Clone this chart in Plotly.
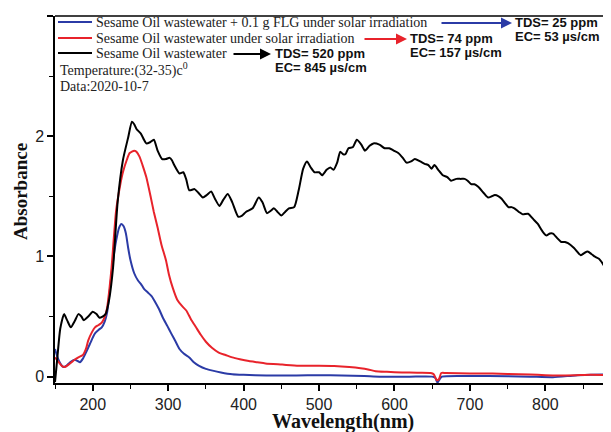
import plotly.graph_objects as go

# ————————————————
# data (wavelength nm, absorbance)
WL_RAW = [150, 153, 157, 162, 166, 171, 176, 181, 185, 188, 194, 200, 205, 209, 213, 217,
          222, 227, 233, 240, 247, 252, 255, 258, 264, 268, 271, 276, 281, 286, 292, 297,
          302, 305, 308, 315, 320, 324, 328, 335, 340, 346, 351, 357, 362, 368, 373, 379,
          385, 393, 398, 403, 412, 420, 425, 431, 436, 440, 445, 450, 455, 460, 467, 473,
          479, 484, 489, 494, 500, 504, 510, 515, 519, 524, 528, 532, 535, 539, 545, 550,
          556, 561, 567, 572, 580, 587, 593, 599, 605, 611, 616, 622, 627, 634, 640, 645,
          649, 653, 658, 664, 670, 675, 682, 688, 693, 697, 702, 706, 711, 718, 724, 729,
          733, 738, 742, 747, 751, 755, 759, 765, 770, 777, 784, 790, 796, 801, 806, 810,
          816, 821, 826, 830, 838, 847, 852, 856, 861, 865, 871, 876, 880, 884, 887]
ABS_RAW = [-0.045, 0.15, 0.40, 0.52, 0.47, 0.41, 0.46, 0.52, 0.50, 0.47, 0.50, 0.54, 0.52, 0.49, 0.50, 0.52,
           0.65, 0.91, 1.45, 1.80, 1.99, 2.12, 2.10, 2.06, 2.02, 1.97, 1.94, 1.95, 1.97, 1.88, 1.81, 1.81,
           1.82, 1.80, 1.76, 1.69, 1.70, 1.64, 1.55, 1.56, 1.53, 1.49, 1.51, 1.54, 1.48, 1.42, 1.47, 1.52,
           1.45, 1.33, 1.34, 1.37, 1.40, 1.49, 1.45, 1.36, 1.38, 1.40, 1.37, 1.34, 1.37, 1.40, 1.41, 1.55,
           1.73, 1.79, 1.74, 1.70, 1.70, 1.675, 1.72, 1.74, 1.72, 1.78, 1.87, 1.85, 1.85, 1.90, 1.91, 1.97,
           1.93, 1.88, 1.92, 1.94, 1.93, 1.90, 1.90, 1.88, 1.86, 1.82, 1.78, 1.79, 1.81, 1.79, 1.77, 1.76,
           1.73, 1.76, 1.72, 1.675, 1.66, 1.63, 1.645, 1.645, 1.645, 1.63, 1.60, 1.60, 1.58, 1.53, 1.49, 1.50,
           1.51, 1.50, 1.48, 1.44, 1.41, 1.41, 1.40, 1.37, 1.35, 1.355, 1.31, 1.27, 1.21, 1.175, 1.19, 1.19,
           1.15, 1.12, 1.12, 1.11, 1.07, 1.01, 1.03, 1.04, 1.02, 1.00, 0.98, 0.94, 0.90, 0.87, 0.85]

WL_SOLAR = [150, 155, 160, 163, 168, 172, 176, 181, 187, 191, 194, 199, 203, 208, 212, 216,
            219, 222, 225, 231, 236, 240, 245, 249, 255, 258, 262, 266, 271, 277, 281, 286,
            291, 297, 301, 306, 312, 318, 324, 330, 337, 343, 350, 358, 367, 376, 385, 395,
            407, 418, 429, 451, 473, 500, 520, 540, 555, 565, 575, 590, 610, 630, 648, 652,
            656, 659, 662, 668, 700, 730, 750, 780, 800, 820, 840, 860, 887]
ABS_SOLAR = [0.16, 0.12, 0.085, 0.08, 0.10, 0.12, 0.14, 0.16, 0.18, 0.23, 0.30, 0.37, 0.41, 0.43, 0.45, 0.50,
             0.57, 0.72, 0.91, 1.38, 1.58, 1.70, 1.80, 1.86, 1.88, 1.87, 1.83, 1.76, 1.66, 1.49, 1.37, 1.24,
             1.10, 0.97, 0.85, 0.74, 0.64, 0.59, 0.55, 0.48, 0.41, 0.35, 0.29, 0.24, 0.20, 0.18, 0.16, 0.145,
             0.13, 0.12, 0.11, 0.10, 0.09, 0.09, 0.088, 0.08, 0.07, 0.06, 0.045, 0.04, 0.035, 0.032, 0.03, 0.02,
             -0.03, -0.02, 0.03, 0.03, 0.025, 0.025, 0.022, 0.018, 0.012, 0.01, 0.012, 0.015, 0.012]

WL_FLG = [150, 154, 158, 161, 165, 170, 176, 180, 183, 187, 191, 194, 199, 203, 208, 212,
          216, 219, 222, 225, 228, 231, 235, 238, 241, 244, 247, 250, 255, 260, 264, 268,
          273, 278, 282, 288, 293, 299, 304, 310, 315, 321, 328, 334, 341, 350, 359, 370,
          385, 400, 430, 470, 500, 530, 560, 580, 620, 650, 654, 657, 660, 663, 700, 750,
          780, 810, 840, 860, 887]
ABS_FLG = [0.23, 0.15, 0.10, 0.08, 0.09, 0.12, 0.14, 0.13, 0.12, 0.15, 0.20, 0.24, 0.31, 0.36, 0.39, 0.41,
           0.46, 0.53, 0.68, 0.86, 1.01, 1.13, 1.24, 1.27, 1.25, 1.19, 1.07, 0.97, 0.86, 0.80, 0.77, 0.73,
           0.70, 0.67, 0.63, 0.56, 0.49, 0.42, 0.36, 0.29, 0.23, 0.19, 0.16, 0.12, 0.09, 0.065, 0.05, 0.035,
           0.02, 0.015, 0.01, 0.01, 0.012, 0.01, 0.005, 0.0, 0.0, 0.0, -0.01, -0.05, -0.02, 0.0, 0.005, 0.003,
           0.0, -0.005, 0.01, 0.015, 0.02]

NAMES = ["Sesame Oil wastewater + 0.1 g FLG under solar irradiation",
         "Sesame Oil wastewater under solar irradiation",
         "Sesame Oil wastewater"]
COLORS = ["#2b3ba6", "#e8232b", "#000000"]
TDS_LABELS = ["TDS= 25 ppm", "TDS= 74 ppm", "TDS= 520 ppm"]
EC_LABELS = ["EC= 53 µs/cm", "EC= 157 µs/cm", "EC= 845 µs/cm"]
NOTES = ["Temperature:(32-35)c<sup>0</sup>", "Data:2020-10-7"]

# the page body keeps its default 8px margin, so the figure is a bit smaller
PAGE_OFF = 8
W, H = 611 - PAGE_OFF, 432 - PAGE_OFF
L, R, T, B = 55 - PAGE_OFF, 0, 16 - PAGE_OFF, 432 - 383
SERIF = "Liberation Serif, Times New Roman, serif"
SANS = "Liberation Sans, Arial, sans-serif"


# ————————————————
# page pixel -> paper helpers for the hand-made legend
def px(x):
    return (x - PAGE_OFF - L) / (W - L - R)


def py(y):
    return (H - B - (y - PAGE_OFF)) / (H - T - B)


def build_figure():
    fig = go.Figure()
    series = [(WL_FLG, ABS_FLG), (WL_SOLAR, ABS_SOLAR), (WL_RAW, ABS_RAW)]
    for (wl, ab), name, color in zip(series, NAMES, COLORS):
        fig.add_trace(go.Scatter(
            x=wl, y=ab, name=name, mode="lines",
            line=dict(color=color, width=2, shape="spline", smoothing=0.6),
            showlegend=False,
        ))

    # legend rows, arrows and TDS / EC notes
    rows_y = [22, 38, 53]
    arrow_tail = [440, 363, 232]
    arrow_head = [512, 407, 271]
    text_x = [513, 408, 273]
    for i, (name, color) in enumerate(zip(NAMES, COLORS)):
        y = rows_y[i]
        fig.add_shape(type="line", xref="paper", yref="paper",
                      x0=px(58), x1=px(92), y0=py(y), y1=py(y),
                      line=dict(color=color, width=2.2))
        fig.add_annotation(xref="paper", yref="paper", x=px(94), y=py(y),
                           text=name, showarrow=False, xanchor="left", yanchor="middle",
                           font=dict(family=SERIF, size=14, color="#222"))
        fig.add_annotation(xref="paper", yref="paper", x=px(arrow_head[i]), y=py(y + 1),
                           ax=arrow_tail[i] - arrow_head[i], ay=0, text="",
                           showarrow=True, arrowhead=2, arrowsize=1.1, arrowwidth=2,
                           arrowcolor=color, standoff=0)
        fig.add_annotation(xref="paper", yref="paper", x=px(text_x[i]), y=py(y),
                           text="<b>%s</b>" % TDS_LABELS[i], showarrow=False,
                           xanchor="left", yanchor="middle",
                           font=dict(family=SANS, size=13, color="#111"))
        fig.add_annotation(xref="paper", yref="paper", x=px(text_x[i]), y=py(y + 14),
                           text="<b>%s</b>" % EC_LABELS[i], showarrow=False,
                           xanchor="left", yanchor="middle",
                           font=dict(family=SANS, size=13, color="#111"))

    for note, y in zip(NOTES, [70, 86]):
        fig.add_annotation(xref="paper", yref="paper", x=px(58), y=py(y),
                           text=note, showarrow=False, xanchor="left", yanchor="middle",
                           font=dict(family=SERIF, size=14, color="#222"))

    # axis titles placed by hand
    fig.add_annotation(xref="paper", yref="paper", x=px(343), y=py(422),
                       text="<b>Wavelength(nm)</b>", showarrow=False,
                       xanchor="center", yanchor="middle", borderpad=0,
                       font=dict(family=SERIF, size=20, color="#111"))
    fig.add_annotation(xref="paper", yref="paper", x=px(20), y=py(192),
                       text="<b>Absorbance</b>", showarrow=False, textangle=-90,
                       xanchor="center", yanchor="middle", borderpad=0,
                       font=dict(family=SERIF, size=19, color="#111"))

    # top frame line
    fig.add_shape(type="line", xref="paper", yref="paper", x0=0, x1=1, y0=1, y1=1,
                  line=dict(color="black", width=1.5))

    axis_common = dict(
        showline=True, linecolor="black", linewidth=1.5, ticks="outside",
        ticklen=6, tickwidth=1.5, tickcolor="black", showgrid=False, zeroline=False,
        automargin=False,
        tickfont=dict(family=SANS, size=16, color="#222"),
    )
    fig.update_xaxes(
        range=[150, 887], tickvals=[200, 300, 400, 500, 600, 700, 800],
        minor=dict(ticks="outside", ticklen=4, tickwidth=1.2, tickcolor="black", dtick=50, tick0=150),
        **axis_common,
    )
    fig.update_yaxes(
        range=[-0.053, 3.0], tickvals=[0, 1, 2, 3],
        minor=dict(ticks="outside", ticklen=4, tickwidth=1.2, tickcolor="black", dtick=0.5, tick0=0),
        **axis_common,
    )
    fig.update_layout(
        width=W, height=H, margin=dict(l=L, r=R, t=T, b=B),
        plot_bgcolor="white", paper_bgcolor="white",
    )
    return fig


def main():
    fig = build_figure()
    fig.write_html("out.html")


if __name__ == "__main__":
    main()
